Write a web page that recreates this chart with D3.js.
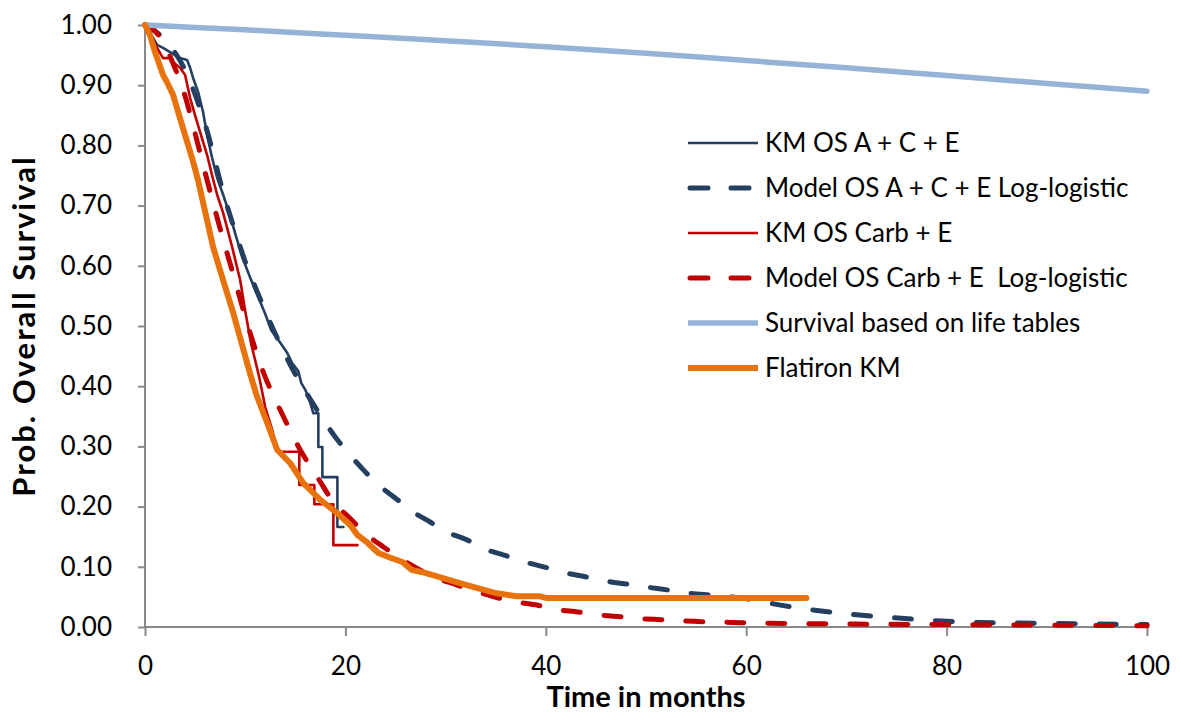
<!DOCTYPE html>
<html>
<head>
<meta charset="utf-8">
<script src="https://cdn.jsdelivr.net/npm/d3@7"></script>
<style>
  body { margin: 0; background: #fff; }
  text { font-family: Lato, "Open Sans", sans-serif; }
</style>
</head>
<body>
<div id="container"></div>
<script>
// Values (repeated times mark the visible KM drops).
const kmAceT = [0, 0.3, 0.6, 1.2, 1.8, 2.5, 3.5, 4.2, 4.5, 4.8, 5.3, 5.8, 6.2, 6.7, 7.2, 7.8, 8.5, 9.1, 9.7, 10.5, 11.3, 12.0, 12.6, 13.5, 14.2, 14.7, 15.3, 15.6, 16.0, 16.5, 16.8, 17.3, 17.3, 17.7, 17.7, 19.2, 19.2, 19.8];
const kmAceS = [1.0, 1.0, 0.985, 0.967, 0.962, 0.955, 0.945, 0.942, 0.929, 0.912, 0.889, 0.855, 0.817, 0.779, 0.746, 0.718, 0.683, 0.648, 0.615, 0.580, 0.548, 0.520, 0.493, 0.472, 0.455, 0.438, 0.425, 0.405, 0.394, 0.372, 0.355, 0.355, 0.299, 0.299, 0.249, 0.249, 0.166, 0.166];

const modelAceT = [0, 2, 4, 6, 8, 9, 10, 11.5, 13.2, 15, 17, 19.2, 20.5, 21.8, 23.1, 25, 26.5, 28.5, 30.1, 32.1, 33.7, 36.1, 37.9, 40, 42, 44.1, 46.1, 48.2, 50.2, 52.4, 54.4, 56.6, 58.6, 60.7, 61.9, 65.9, 69.9, 74.2, 78.4, 82, 90, 100];
const modelAceS = [1.0, 0.975, 0.925, 0.835, 0.710, 0.657, 0.607, 0.545, 0.480, 0.420, 0.365, 0.311, 0.285, 0.261, 0.239, 0.214, 0.194, 0.174, 0.158, 0.145, 0.131, 0.118, 0.108, 0.099, 0.090, 0.083, 0.076, 0.071, 0.066, 0.061, 0.056, 0.053, 0.050, 0.045, 0.041, 0.030, 0.022, 0.016, 0.011, 0.008, 0.006, 0.004];

const kmCarbT = [0, 0.5, 1.2, 1.8, 2.5, 2.8, 3.5, 4.0, 4.5, 5.0, 5.5, 6.2, 6.7, 7.2, 7.8, 8.7, 9.5, 10.0, 10.6, 11.4, 12.0, 12.7, 13.2, 15.4, 15.4, 16.9, 16.9, 18.8, 18.8, 21.2];
const kmCarbS = [1.0, 0.985, 0.962, 0.945, 0.945, 0.938, 0.929, 0.917, 0.879, 0.850, 0.822, 0.784, 0.750, 0.718, 0.688, 0.631, 0.576, 0.525, 0.470, 0.415, 0.365, 0.327, 0.291, 0.291, 0.236, 0.236, 0.204, 0.204, 0.136, 0.136];

const modelCarbT = [0, 1, 2, 3, 4, 5, 6, 7, 8, 9, 10, 11, 12, 13, 14, 15.5, 17.2, 18.8, 20.5, 21.8, 23.8, 25.4, 27.4, 28.7, 31.1, 32.7, 35.1, 36.9, 39.2, 41.1, 43.2, 45.4, 47.4, 49.4, 51.7, 53.7, 57.9, 60, 70, 80, 90, 100];
const modelCarbS = [1.0, 0.990, 0.965, 0.928, 0.882, 0.820, 0.755, 0.692, 0.632, 0.575, 0.515, 0.462, 0.415, 0.378, 0.343, 0.294, 0.249, 0.208, 0.180, 0.158, 0.133, 0.115, 0.095, 0.084, 0.070, 0.061, 0.049, 0.042, 0.036, 0.029, 0.025, 0.020, 0.017, 0.014, 0.012, 0.010, 0.008, 0.007, 0.005, 0.004, 0.003, 0.002];

const lifeT = [0, 5, 10, 20, 30, 40, 50, 60, 70, 80, 90, 100];
const lifeS = [1.0, 0.996, 0.992, 0.983, 0.974, 0.964, 0.953, 0.941, 0.929, 0.916, 0.903, 0.890];

const flatironT = [0, 0.5, 1.0, 1.8, 2.2, 2.8, 3.5, 4.0, 4.7, 5.3, 6.0, 6.8, 7.8, 8.8, 9.7, 10.5, 11.2, 12.2, 13.2, 14.5, 15.8, 17.5, 19.2, 20.5, 21.2, 22.2, 23.3, 24.5, 25.7, 26.6, 27.7, 29.4, 31.4, 33.1, 35.1, 37.1, 39.4, 40.1, 66];
const flatironS = [1.0, 0.983, 0.955, 0.917, 0.905, 0.884, 0.845, 0.817, 0.779, 0.742, 0.690, 0.631, 0.576, 0.522, 0.468, 0.420, 0.382, 0.339, 0.294, 0.272, 0.239, 0.211, 0.189, 0.169, 0.153, 0.140, 0.123, 0.115, 0.108, 0.095, 0.091, 0.083, 0.073, 0.065, 0.056, 0.051, 0.051, 0.048, 0.048];

const seriesNames = [
  'KM OS A + C + E',
  'Model OS A + C + E Log-logistic',
  'KM OS Carb + E',
  'Model OS Carb + E  Log-logistic',
  'Survival based on life tables',
  'Flatiron KM'
];

const xTicks = [0, 20, 40, 60, 80, 100];
const yTicks = [0, 0.1, 0.2, 0.3, 0.4, 0.5, 0.6, 0.7, 0.8, 0.9, 1.0];

// Container SVG.
const margin = { top: 25, right: 33, bottom: 88, left: 145 },
  width = 1180 - margin.left - margin.right,
  height = 715 - margin.top - margin.bottom;

const svg = d3
  .select('#container')
  .append('svg')
  .attr('width', 1180)
  .attr('height', 715)
  .append('g')
  .attr('transform', `translate(${margin.left} ${margin.top})`);

const x = d3.scaleLinear().domain([0, 100]).range([0, width]);
const y = d3.scaleLinear().domain([0, 1]).range([height, 0]);

// Axes.
const axisColour = '#898989';
const gy = svg.append('g')
  .call(d3.axisLeft(y).tickValues(yTicks).tickFormat(d3.format('.2f')).tickSize(7).tickPadding(26));
const gx = svg.append('g')
  .attr('transform', `translate(0, ${height})`)
  .call(d3.axisBottom(x).tickValues(xTicks).tickSize(9).tickPadding(21));

[gx, gy].forEach(g => {
  g.select('.domain').attr('stroke', axisColour).attr('stroke-width', 2);
  g.selectAll('.tick line').attr('stroke', axisColour).attr('stroke-width', 2);
  g.selectAll('.tick text')
    .attr('fill', '#000')
    .style('font-size', '26px')
    .style('font-family', 'Lato, sans-serif');
});
gy.select('.domain').attr('d', `M0,${height}V0`);
gx.select('.domain').attr('d', `M0,0H${width}`);

// Axis titles.
svg.append('text')
  .text('Time in months')
  .attr('x', width / 2)
  .attr('y', height + 80)
  .attr('text-anchor', 'middle')
  .attr('font-weight', 'bold')
  .attr('font-size', '29px');

svg.append('text')
  .text('Prob. Overall Survival')
  .attr('transform', `translate(${-110}, ${height / 2}) rotate(-90)`)
  .attr('text-anchor', 'middle')
  .attr('font-weight', 'bold')
  .attr('font-size', '31px')
  .style('letter-spacing', '2px');

// Series.
const zip = (ts, ss) => ts.map((t, i) => ({ t, s: ss[i] }));

const series = [
  { name: seriesNames[0], data: zip(kmAceT, kmAceS), colour: '#243F60', w: 2.6, dash: null, curve: d3.curveLinear },
  { name: seriesNames[1], data: zip(modelAceT, modelAceS), colour: '#243F60', w: 5, dash: '17,24', curve: d3.curveMonotoneX },
  { name: seriesNames[2], data: zip(kmCarbT, kmCarbS), colour: '#C00000', w: 2.6, dash: null, curve: d3.curveLinear },
  { name: seriesNames[3], data: zip(modelCarbT, modelCarbS), colour: '#C00000', w: 5, dash: '17,24', curve: d3.curveMonotoneX },
  { name: seriesNames[4], data: zip(lifeT, lifeS), colour: '#95B3D7', w: 5.5, dash: null, curve: d3.curveMonotoneX },
  { name: seriesNames[5], data: zip(flatironT, flatironS), colour: '#E8720C', w: 6, dash: null, curve: d3.curveLinear }
];

series.forEach(sr => {
  const line = d3.line()
    .x(d => x(d.t))
    .y(d => y(d.s))
    .curve(sr.curve);

  svg.append('path')
    .datum(sr.data)
    .attr('d', line)
    .attr('fill', 'none')
    .attr('stroke', sr.colour)
    .attr('stroke-width', sr.w)
    .attr('stroke-linejoin', 'round')
    .attr('stroke-linecap', 'round')
    .attr('stroke-dasharray', sr.dash);
});

// Legend.
const gLegend = svg.append('g')
  .attr('transform', `translate(${688 - margin.left}, ${143 - margin.top})`);

const legend = gLegend.selectAll('.legend__key')
  .data(series)
  .enter()
  .append('g')
  .attr('class', 'legend__key')
  .attr('transform', (d, i) => `translate(0, ${i * 45})`);

legend.append('line')
  .attr('x1', d => d.dash ? 2 : 0)
  .attr('x2', 70)
  .attr('stroke', d => d.colour)
  .attr('stroke-width', d => d.w)
  .attr('stroke-linecap', d => d.dash ? 'round' : 'butt')
  .attr('stroke-dasharray', d => d.dash ? '18,23' : null);

legend.append('text')
  .text(d => d.name)
  .attr('x', 77)
  .attr('dy', '0.35em')
  .attr('font-size', '26px')
  .attr('fill', '#000')
  .style('white-space', 'pre');
</script>
</body>
</html>
